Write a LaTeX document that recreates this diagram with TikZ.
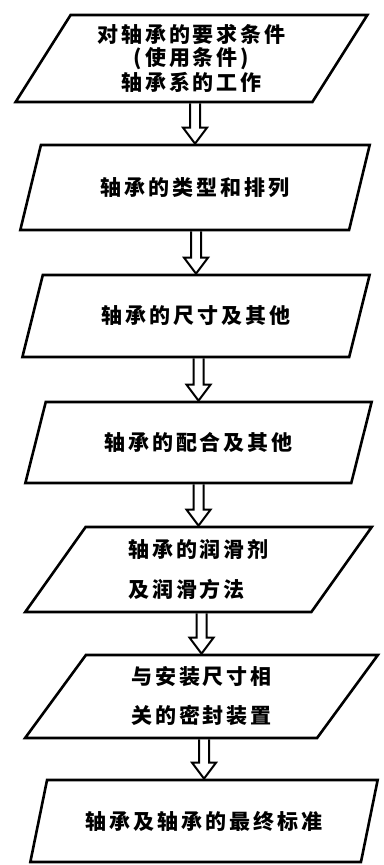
\documentclass[tikz,border=0pt]{standalone}
\usepackage{fontspec}
\setmainfont{Noto Sans CJK SC}[LetterSpace=14]
\usetikzlibrary{shapes.geometric,calc}
\tikzset{
  flowbox/.style={draw, line width=2.6pt, trapezium, trapezium left angle=58, trapezium right angle=122,
    trapezium stretches=true, inner sep=0pt, align=center,
    font=\fontsize{21}{25}\selectfont\bfseries},
  hollow/.style={draw, line width=2pt, line join=miter}
}
\newcommand{\hollowarrow}[2]{%
  \draw[hollow] ($(#2 |- #1.south)+(-5,0)$) -- ($(#2.north)+(-5,16)$) -- ($(#2.north)+(-12,16)$)
    -- (#2.north) -- ($(#2.north)+(12,16)$) -- ($(#2.north)+(5,16)$) -- ($(#2 |- #1.south)+(5,0)$);}
\begin{document}
\begin{tikzpicture}[x=1pt,y=1pt]
\useasboundingbox (0,0) rectangle (383,865);
\node[flowbox, minimum width=353pt, minimum height=87pt] (b1) at (191.5,806.5) {\raisebox{-6pt}{\shortstack{对轴承的要求条件\\(使用条件)\\轴承系的工作}}};
\node[flowbox, minimum width=350pt, minimum height=85pt] (b2) at (195,677.5) {轴承的类型和排列};
\node[flowbox, minimum width=348pt, minimum height=82pt] (b3) at (196,549) {轴承的尺寸及其他};
\node[flowbox, minimum width=347pt, minimum height=81pt] (b4) at (198.5,422.5) {轴承的配合及其他};
\node[flowbox, minimum width=347pt, minimum height=85pt, align=left] (b5) at (198.5,295.5) {轴承的润滑剂\\[15pt]及润滑方法};
\node[flowbox, minimum width=353pt, minimum height=83pt, align=left] (b6) at (201.5,168.5) {与安装尺寸相\\[14pt]关的密封装置};
\node[flowbox, minimum width=348pt, minimum height=82pt] (b7) at (204,44) {轴承及轴承的最终标准};
\hollowarrow{b1}{b2}
\hollowarrow{b2}{b3}
\hollowarrow{b3}{b4}
\hollowarrow{b4}{b5}
\hollowarrow{b5}{b6}
\hollowarrow{b6}{b7}
\end{tikzpicture}
\end{document}
